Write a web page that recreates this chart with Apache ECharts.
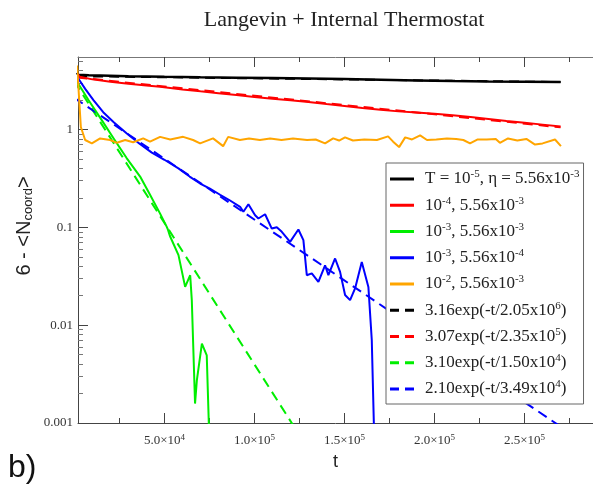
<!DOCTYPE html>
<html><head><meta charset="utf-8">
<script src="https://cdn.jsdelivr.net/npm/echarts@6/dist/echarts.min.js"></script>
<style>html,body{margin:0;padding:0;background:#fff}#c{width:593px;height:495px}</style>
</head><body><div id="c"></div>
<script>
// ---- data: [t, 6-<Ncoord>] ----
const blackData = [[1500,3.8],[2080,3.62],[8000,3.57],[14300,3.55],[30000,3.5],[50000,3.45],[70000,3.41],[90000,3.38],[110000,3.35],[130000,3.32],[150000,3.27],[170000,3.22],[190000,3.17],[210000,3.12],[230000,3.09],[250000,3.07],[270000,3.05]];
const redData = [[1500,3.75],[3000,3.45],[10000,3.25],[20000,3.08],[30000,2.93],[40000,2.82],[47600,2.73],[60000,2.56],[70000,2.45],[80000,2.35],[90000,2.25],[100000,2.15],[110000,2.06],[120000,1.99],[130000,1.91],[140000,1.82],[150000,1.74],[160000,1.66],[170000,1.59],[180000,1.53],[190000,1.49],[200000,1.45],[210000,1.4],[220000,1.34],[230000,1.28],[240000,1.22],[250000,1.17],[260000,1.12],[270000,1.07]];
const greenData = [[1500,3.1],[2080,2.95],[7800,2.0],[15000,1.26],[22000,0.8],[29000,0.51],[36500,0.33],[42000,0.215],[47600,0.138],[51300,0.101],[52000,0.094],[53000,0.082],[57800,0.052],[61500,0.0246],[64300,0.0324],[65200,0.018],[67000,0.00158],[68000,0.00273],[70800,0.00646],[73500,0.0049],[74800,0.0008]];
const blueData = [[1500,3.5],[2250,3.3],[6000,2.6],[10580,1.99],[16000,1.5],[22000,1.18],[29120,0.91],[36000,0.72],[43000,0.58],[50000,0.49],[57770,0.40],[64000,0.33],[69810,0.28],[75000,0.25],[80910,0.215],[86000,0.19],[92020,0.162],[93850,0.144],[96630,0.172],[100350,0.133],[102180,0.123],[105900,0.136],[109620,0.097],[112400,0.1],[115170,0.09],[119780,0.071],[124390,0.095],[127170,0.074],[129060,0.0324],[131830,0.0338],[135500,0.0277],[139210,0.0409],[141050,0.0324],[144770,0.048],[147540,0.035],[150320,0.0203],[153100,0.018],[155870,0.0237],[159590,0.0441],[163260,0.0246],[165140,0.0071],[166420,0.0008]];
const orangeData = [[1500,4.5],[3580,1.06],[5970,0.78],[9690,0.72],[14300,0.81],[19800,0.78],[23600,0.73],[28200,0.78],[32600,0.74],[38200,0.81],[42000,0.75],[47600,0.84],[53200,0.79],[60400,0.84],[65900,0.78],[69800,0.72],[77000,0.81],[82600,0.675],[85400,0.84],[91900,0.78],[97000,0.81],[103000,0.78],[108700,0.81],[115000,0.78],[121400,0.81],[129200,0.78],[134000,0.79],[139200,0.72],[143700,0.81],[147000,0.77],[150300,0.83],[154700,0.77],[161000,0.79],[168000,0.78],[174200,0.85],[177000,0.75],[180300,0.66],[183700,0.83],[187500,0.79],[192000,0.87],[195800,0.78],[201000,0.79],[206900,0.81],[212000,0.8],[216000,0.78],[219700,0.72],[224000,0.79],[229000,0.79],[234000,0.8],[236300,0.73],[240800,0.81],[246000,0.77],[251000,0.8],[255800,0.70],[260000,0.72],[266900,0.79],[270200,0.675]];
// fitted exponentials (straight lines on the log axis), endpoints
const blackFit = [[1500,3.5],[270000,3.05]];
const redFit = [[1500,3.4],[270000,1.05]];
const greenFit = [[0,3.10],[125000,0.00075]];
const blueFit = [[0,2.10],[270000,0.00092]];

const seriesNames = ['T = 10^-5, η = 5.56x10^-3','10^-4, 5.56x10^-3','10^-3, 5.56x10^-3','10^-3, 5.56x10^-4','10^-2, 5.56x10^-3','3.16exp(-t/2.05x10^6)','3.07exp(-t/2.35x10^5)','3.10exp(-t/1.50x10^4)','2.10exp(-t/3.49x10^4)'];
const legendLabels = ['T = 10{sup|-5}, η = 5.56x10{sup|-3}','10{sup|-4}, 5.56x10{sup|-3}','10{sup|-3}, 5.56x10{sup|-3}','10{sup|-3}, 5.56x10{sup|-4}','10{sup|-2}, 5.56x10{sup|-3}','3.16exp(-t/2.05x10{sup|6})','3.07exp(-t/2.35x10{sup|5})','3.10exp(-t/1.50x10{sup|4})','2.10exp(-t/3.49x10{sup|4})'];
const seriesColors = ['#000000','#ff0000','#00ee00','#0000ff','#ffa500','#000000','#ff0000','#00ee00','#0000ff'];

const xMajorTicks = [50000,100000,150000,200000,250000];
const xMinorTicks = [25000,75000,125000,175000,225000,275000];
const xLabelMantissa = ['5.0','1.0','1.5','2.0','2.5'];
const xLabelExp = ['4','5','5','5','5'];
const yTickValues = [0.001,0.01,0.1,1];
const yTickLabels = ['0.001','0.01','0.1','1'];
const yMinorTicks = [0.002,0.003,0.004,0.005,0.006,0.007,0.008,0.009,0.02,0.03,0.04,0.05,0.06,0.07,0.08,0.09,0.2,0.3,0.4,0.5,0.6,0.7,0.8,0.9,2,3,4,5];

const X_MIN = 2000, X_MAX = 288000, Y_MIN = 0.001, Y_MAX = 5.5;
const SERIF = 'Liberation Serif';
const SANS = 'Liberation Sans';
const axisCol = '#444';
const ICON_SOLID = 'path://M0,0H24V3H0Z';
const ICON_DASHED = 'path://M0,0H9V3H0Z M15,0H24V3H15Z';

function xAxisDef(pos, ticks, len, showLine, showLabel) {
  const ax = {
    type: 'value', position: pos, min: X_MIN, max: X_MAX, gridIndex: 0,
    splitLine: {show: false},
    axisLine: {show: showLine, lineStyle: {color: pos === 'top' ? '#777' : axisCol, width: 1}},
    axisTick: {show: true, inside: true, length: len, customValues: ticks, lineStyle: {color: axisCol, width: 1}},
    axisLabel: showLabel ? {
      show: true, customValues: xMajorTicks, margin: 10,
      fontFamily: SERIF, fontSize: 13, color: '#333',
      formatter: function (v) {
        const i = xMajorTicks.findIndex(function (t) { return Math.abs(t - v) < 1; });
        return i < 0 ? '' : '{n|' + xLabelMantissa[i] + '×10}{sup|' + xLabelExp[i] + '}';
      },
      rich: {
        n: {fontFamily: SERIF, fontSize: 13, lineHeight: 16, color: '#333'},
        sup: {fontFamily: SERIF, fontSize: 9, lineHeight: 6, verticalAlign: 'top', color: '#333'}
      }
    } : {show: false}
  };
  if (showLabel) {
    ax.name = 't'; ax.nameLocation = 'middle'; ax.nameGap = 30;
    ax.nameTextStyle = {fontFamily: SANS, fontSize: 18, color: '#222'};
  }
  return ax;
}
function yAxisDef(ticks, len, showLine, showLabel) {
  return {
    type: 'log', logBase: 10, min: Y_MIN, max: Y_MAX, position: 'left', gridIndex: 0,
    splitLine: {show: false}, minorTick: {show: false},
    axisLine: {show: showLine, lineStyle: {color: axisCol, width: 1}},
    axisTick: {show: true, inside: true, length: len, customValues: ticks, lineStyle: {color: showLabel ? axisCol : '#777', width: 1}},
    axisLabel: showLabel ? {
      show: true, customValues: yTickValues, margin: 5,
      fontFamily: SERIF, fontSize: 13, color: '#333',
      formatter: function (v) {
        const i = yTickValues.findIndex(function (t) { return Math.abs(Math.log10(t) - Math.log10(v)) < 1e-6; });
        return i < 0 ? '' : yTickLabels[i];
      }
    } : {show: false}
  };
}

const dataSets = [blackData, redData, greenData, blueData, orangeData, blackFit, redFit, greenFit, blueFit];
const series = dataSets.map(function (d, i) {
  const dashed = i >= 5;
  return {
    name: seriesNames[i], type: 'line', data: d, symbol: 'none', showSymbol: false,
    xAxisIndex: 0, yAxisIndex: 0, clip: true, animation: false,
    lineStyle: {color: seriesColors[i], width: (i === 0 ? 2.5 : 2), type: dashed ? [10, 6] : 'solid'},
    itemStyle: {color: seriesColors[i]},
    z: dashed ? 2 : 3
  };
});

const legendData = seriesNames.map(function (n, i) {
  return {name: n, icon: i >= 5 ? ICON_DASHED : ICON_SOLID};
});

const chart = echarts.init(document.getElementById('c'), null, {renderer: 'canvas'});
chart.setOption({
  animation: false,
  backgroundColor: '#fff',
  title: {
    text: 'Langevin + Internal Thermostat', left: 339, top: 4, textAlign: 'center',
    textStyle: {fontFamily: SERIF, fontSize: 22, fontWeight: 'normal', color: '#222'}
  },
  grid: {left: 78, right: 0, top: 57, bottom: 72, containLabel: false},
  xAxis: [
    xAxisDef('bottom', xMajorTicks, 10, true, true),
    xAxisDef('bottom', xMinorTicks, 5, false, false),
    xAxisDef('top', xMajorTicks, 10, true, false),
    xAxisDef('top', xMinorTicks, 5, false, false)
  ],
  yAxis: [
    yAxisDef(yTickValues, 10, true, true),
    yAxisDef(yMinorTicks, 5, false, false)
  ],
  legend: {
    show: true, orient: 'vertical', left: 386, top: 163,
    padding: [6, 4, 5, 4], itemGap: 6.25, itemWidth: 24, itemHeight: 3,
    backgroundColor: '#fff', borderColor: '#666', borderWidth: 1, borderRadius: 0,
    data: legendData,
    formatter: function (name) { return legendLabels[seriesNames.indexOf(name)]; },
    textStyle: {
      fontFamily: SERIF, fontSize: 17, color: '#222', lineHeight: 20, padding: [0, 0, 0, 6],
      rich: {sup: {fontFamily: SERIF, fontSize: 11, lineHeight: 8, verticalAlign: 'top', color: '#222'}}
    }
  },
  graphic: [
    {type: 'text', x: 24, y: 226, rotation: Math.PI / 2,
     style: {text: '6 - <N{sub|coord}>', fontFamily: SANS, fontSize: 20, fill: '#222', align: 'center', verticalAlign: 'middle', lineHeight: 22,
       rich: {sub: {fontFamily: SANS, fontSize: 13, lineHeight: 8, verticalAlign: 'bottom', fill: '#222'}}}},
    {type: 'text', left: 8, top: 452, style: {text: 'b)', fontFamily: SANS, fontSize: 32, fill: '#111'}}
  ],
  series: series
});
</script>
</body></html>
